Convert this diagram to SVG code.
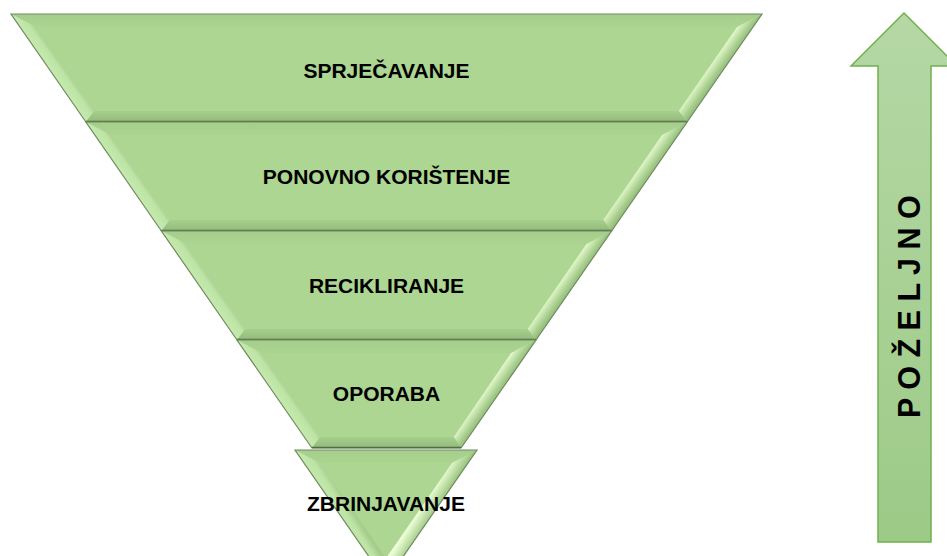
<svg xmlns="http://www.w3.org/2000/svg" width="947" height="556" viewBox="0 0 947 556">
  <defs>
    <linearGradient id="gTop" x1="0" y1="0" x2="0" y2="1">
      <stop offset="0" stop-color="#a5cd8b"/>
      <stop offset="1" stop-color="#acd491"/>
    </linearGradient>
    <linearGradient id="gLeft" x1="0.45" y1="0.5" x2="0.57" y2="0.39">
      <stop offset="0" stop-color="#c6eaae"/>
      <stop offset="0.6" stop-color="#bde3a5"/>
      <stop offset="1" stop-color="#a3cb89"/>
    </linearGradient>
    <linearGradient id="gRight" x1="0.43" y1="0.39" x2="0.56" y2="0.51">
      <stop offset="0" stop-color="#eefed8"/>
      <stop offset="0.3" stop-color="#cde9b4"/>
      <stop offset="0.65" stop-color="#a9cf8f"/>
      <stop offset="1" stop-color="#8fb676"/>
    </linearGradient>
    <linearGradient id="gBottom" x1="0" y1="0" x2="0" y2="1">
      <stop offset="0" stop-color="#a6ce8c"/>
      <stop offset="1" stop-color="#93ba7a"/>
    </linearGradient>
    <linearGradient id="gArrow" x1="0" y1="0" x2="0" y2="1">
      <stop offset="0" stop-color="#b5d8a5"/>
      <stop offset="1" stop-color="#9dca87"/>
    </linearGradient>
  </defs>
  <style>
    .face { fill: #acd692; }
    .bt { fill: url(#gTop); }
    .bl { fill: url(#gLeft); }
    .br { fill: url(#gRight); }
    .bb { fill: url(#gBottom); }
    .edge { fill: none; stroke: #6f8c60; stroke-width: 1.2; stroke-linejoin: miter; }
    .base { stroke: #526e46; stroke-width: 1.6; }
    .lbl { font-family: "Liberation Sans", Arial, sans-serif; font-weight: bold; font-size: 21px; fill: #000; text-anchor: middle; }
    .arrow { fill: url(#gArrow); stroke: #72b04f; stroke-width: 1.5; }
    .vlbl { font-family: "Liberation Sans", Arial, sans-serif; font-weight: bold; font-size: 30.5px; fill: #000; }
  </style>
  <rect width="947" height="556" fill="#ffffff"/>

  <g id="band1">
    <polygon class="face" points="11,14 762,14 687.1,122 85.9,122"/>
    <polygon class="bt" points="11,14 762,14 737,27 36,27"/>
    <polygon class="bl" points="11,14 36,27 94.25,111 85.9,122"/>
    <polygon class="br" points="762,14 687.1,122 678.75,111 737,27"/>
    <polygon class="bb" points="85.9,122 94.25,111 678.75,111 687.1,122"/>
    <polygon class="edge" points="11,14 762,14 687.1,122 85.9,122"/>
    <line class="base" x1="85.9" y1="121.5" x2="687.1" y2="121.5"/>
    <text class="lbl" x="386.5" y="77.5">SPRJEČAVANJE</text>
  </g>

  <g id="band2">
    <polygon class="face" points="85.9,122 687.1,122 611.6,231 161.4,231"/>
    <polygon class="bt" points="85.9,122 687.1,122 662.1,135 110.9,135"/>
    <polygon class="bl" points="85.9,122 110.9,135 169.8,220 161.4,231"/>
    <polygon class="br" points="687.1,122 611.6,231 603.2,220 662.1,135"/>
    <polygon class="bb" points="161.4,231 169.8,220 603.2,220 611.6,231"/>
    <polygon class="edge" points="85.9,122 687.1,122 611.6,231 161.4,231"/>
    <line class="base" x1="161.4" y1="230.5" x2="611.6" y2="230.5"/>
    <text class="lbl" x="386.5" y="184">PONOVNO KORIŠTENJE</text>
  </g>

  <g id="band3">
    <polygon class="face" points="161.4,231 611.6,231 536,340 237,340"/>
    <polygon class="bt" points="161.4,231 611.6,231 586.5,244 186.5,244"/>
    <polygon class="bl" points="161.4,231 186.5,244 245.4,329 237,340"/>
    <polygon class="br" points="611.6,231 536,340 527.6,329 586.5,244"/>
    <polygon class="bb" points="237,340 245.4,329 527.6,329 536,340"/>
    <polygon class="edge" points="161.4,231 611.6,231 536,340 237,340"/>
    <line class="base" x1="237" y1="339.5" x2="536" y2="339.5"/>
    <text class="lbl" x="386.5" y="292.5">RECIKLIRANJE</text>
  </g>

  <g id="band4">
    <polygon class="face" points="237,340 536,340 461.1,448 311.9,448"/>
    <polygon class="bt" points="237,340 536,340 511,353 262,353"/>
    <polygon class="bl" points="237,340 262,353 320.3,437 311.9,448"/>
    <polygon class="br" points="536,340 461.1,448 453.7,437 511,353"/>
    <polygon class="bb" points="311.9,448 320.3,437 453.7,437 461.1,448"/>
    <polygon class="edge" points="237,340 536,340 461.1,448 311.9,448"/>
    <line class="base" x1="311.9" y1="447.5" x2="461.1" y2="447.5"/>
    <text class="lbl" x="386.5" y="400.5">OPORABA</text>
  </g>

  <g id="band5">
    <polygon class="face" points="295,450 477,450 386,581.3"/>
    <polygon class="bt" points="295,450 477,450 452,463 320,463"/>
    <polygon class="bl" points="295,450 320,463 386,558.2 386,581.3"/>
    <polygon class="br" points="477,450 386,581.3 386,558.2 452,463"/>
    <polygon class="edge" points="295,450 477,450 386,581.3"/>
    <text class="lbl" x="386" y="511">ZBRINJAVANJE</text>
  </g>

  <g id="arrow">
    <polygon class="arrow" points="904,13 957,66 931,66 931,542 878,542 878,66 851,66"/>
    <text class="vlbl" transform="translate(920,418) rotate(-90)" x="0" y="0">P O Ž E L J N O</text>
  </g>
</svg>
